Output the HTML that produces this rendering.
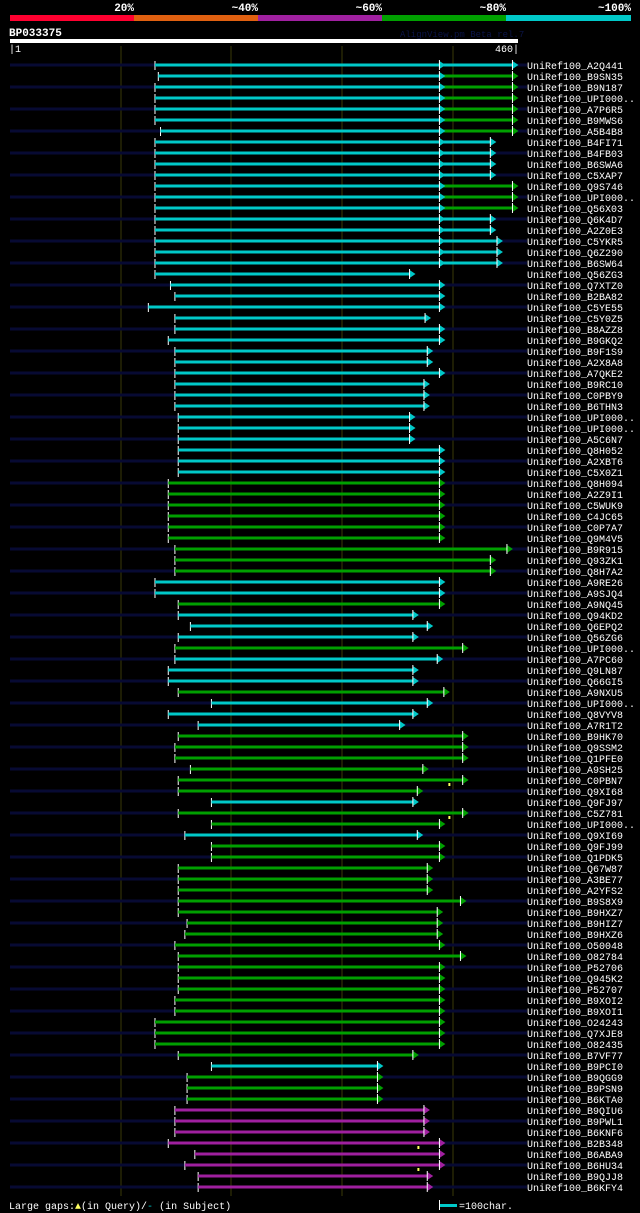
<!DOCTYPE html>
<html><head><meta charset="utf-8"><style>
html,body{margin:0;padding:0;background:#000;width:640px;height:1213px;overflow:hidden}
svg{display:block}
text{font-family:"Liberation Mono","DejaVu Sans Mono",monospace}
</style></head><body>
<svg id="chart" width="640" height="1213" viewBox="0 0 640 1213" xmlns="http://www.w3.org/2000/svg">
<g>
<rect x="10" y="15" width="124" height="6" fill="#ff0030"/>
<rect x="134" y="15" width="124" height="6" fill="#e06010"/>
<rect x="258" y="15" width="124" height="6" fill="#a020a0"/>
<rect x="382" y="15" width="124" height="6" fill="#00a000"/>
<rect x="506" y="15" width="125" height="6" fill="#00c8c8"/>
<g font-weight="bold" font-size="11" fill="#fff" text-anchor="end">
<text x="134" y="11">20%</text><text x="258" y="11">~40%</text><text x="382" y="11">~60%</text><text x="506" y="11">~80%</text><text x="631" y="11">~100%</text>
</g></g>
<text x="9" y="36" font-size="11" font-weight="bold" fill="#fff">BP033375</text>
<text x="400" y="37" font-size="9" fill="#0b1448">AlignView.pm Beta rel.7</text>
<rect x="10" y="39" width="508" height="4" fill="#fff"/>
<text x="9" y="52" font-size="10" fill="#fff">|1</text>
<text x="519" y="52" font-size="10" fill="#fff" text-anchor="end">460|</text>
<g id="grid"></g><g id="rows"></g>
<text x="9" y="1209" font-size="10" fill="#fff">Large gaps:<tspan fill="#ffff60">▲</tspan>(in Query)/<tspan fill="#00c8c8">-</tspan> (in Subject)</text>
<rect x="440" y="1204" width="17" height="3" fill="#00c8c8"/>
<rect x="439" y="1200" width="1" height="10" fill="#fff"/>
<text x="459" y="1209" font-size="10" fill="#fff">=100char.</text>
</svg>
<script>
const labels=["A2Q441","B9SN35","B9N187","UPI000..","A7P6R5","B9MWS6","A5B4B8","B4FI71","B4FB03","B6SWA6","C5XAP7","Q9S746","UPI000..","Q56X03","Q6K4D7","A2Z0E3","C5YKR5","Q6Z290","B6SW64","Q56ZG3","Q7XTZ0","B2BA82","C5YE55","C5Y0Z5","B8AZZ8","B9GKQ2","B9F1S9","A2X8A8","A7QKE2","B9RC10","C0PBY9","B6THN3","UPI000..","UPI000..","A5C6N7","Q8H052","A2XBT6","C5X0Z1","Q8H094","A2Z9I1","C5WUK9","C4JC65","C0P7A7","Q9M4V5","B9R915","Q93ZK1","Q8H7A2","A9RE26","A9SJQ4","A9NQ45","Q94KD2","Q6EPQ2","Q56ZG6","UPI000..","A7PC60","Q9LN87","Q66GI5","A9NXU5","UPI000..","Q8VYV8","A7R1T2","B9HK70","Q9SSM2","Q1PFE0","A9SH25","C0PBN7","Q9XI68","Q9FJ97","C5Z781","UPI000..","Q9XI69","Q9FJ99","Q1PDK5","Q67W87","A3BE77","A2YFS2","B9S8X9","B9HXZ7","B9HIZ7","B9HXZ6","O50048","O82784","P52706","Q945K2","P52707","B9XOI2","B9XOI1","O24243","Q7XJE8","O82435","B7VF77","B9PCI0","B9QGG9","B9PSN9","B6KTA0","B9QIU6","B9PWL1","B6KNF6","B2B348","B6ABA9","B6HU34","B9QJJ8","B6KFY4"];
const starts=[132,135,132,132,132,132,137,132,132,132,132,132,132,132,132,132,132,132,132,132,146,150,126,150,150,144,150,150,150,150,150,150,153,153,153,153,153,153,144,144,144,144,144,144,150,150,150,132,132,153,153,164,153,150,150,144,144,153,183,144,171,153,150,150,164,153,153,183,153,183,159,183,183,153,153,153,153,153,161,159,150,153,153,153,153,150,150,132,132,132,153,183,161,161,161,150,150,150,144,168,159,171,171];
const splits=[389,389,389,389,389,389,389,389,389,389,389,389,389,389,389,389,389,389,389];
const ends=[455,455,455,455,455,455,455,435,435,435,435,455,455,455,435,435,441,441,441,362,389,389,389,376,389,389,378,378,389,375,375,375,362,362,362,389,389,389,389,389,389,389,389,389,450,435,435,389,389,389,365,378,365,410,387,365,365,393,378,365,353,410,410,410,374,410,369,365,410,389,369,389,389,378,378,378,408,387,387,387,389,408,389,389,389,389,389,389,389,389,365,333,333,333,333,375,375,375,389,389,389,378,378];
const colors1=("cccccccccc"+"cccccccccc"+"cccccccccc"+"cccccccc")+"ggggggggg"+"cc"+"g"+"ccc"+"g"+"ccc"+"g"+"ccc"+"gggggg"+"c"+"gg"+"c"+("gggggggggg"+"gggggggggg")+"c"+"ggg"+"mmmmmmmm";
const colors2="c"+"gggggg"+"cccc"+"ggg"+"ccccc";
const queryGaps=[[65,398],[68,398],[98,370],[100,370]];
const COL={c:"#00c8c8",g:"#00a000",m:"#a020a0"};
const NS="http://www.w3.org/2000/svg";
const xs=r=>10+(r-1)*508/459;
const ys=i=>65+i*11;
function mk(tag,a,parent){const e=document.createElementNS(NS,tag);for(const k in a)e.setAttribute(k,a[k]);parent.appendChild(e);return e;}
const grid=document.getElementById('grid');
[100,200,300,400].forEach(t=>{
 const l=mk('rect',{x:Math.round(xs(t+1))-0.5,y:46,width:1,height:1150,fill:'#3a3a08'},grid);
 
 
});
const rowsG=document.getElementById('rows');
function arrow(x,y,col,g){
 mk('polygon',{points:`${x},${y-4} ${x+6},${y} ${x},${y+4}`,fill:col},g);
 mk('rect',{x:x-0.5,y:y-5,width:1,height:10,fill:'#fff'},g);
}
labels.forEach((lab,i)=>{
 const y=ys(i);
 const g=mk('g',{},rowsG);
 
 
 if(i%2===0) mk('rect',{x:10,y:y-1.5,width:517,height:3,fill:'#070a33'},g);
 const x0=xs(starts[i]);const sp=splits[i];const xe=xs(ends[i]);
 const c1=COL[colors1[i]];
 mk('rect',{x:x0-0.5,y:y-4,width:1,height:9,fill:'#fff'},g);
 if(sp){
  const xm=xs(sp);const c2=COL[colors2[i]];
  const b1=mk('rect',{x:x0,y:y-1.5,width:xm-x0,height:3,fill:c1},g);
  
  
  const b2=mk('rect',{x:xm,y:y-1.5,width:xe-xm,height:3,fill:c2},g);
  
  
  arrow(xm,y,c1,g);arrow(xe,y,c2,g);
 }else{
  const b=mk('rect',{x:x0,y:y-1.5,width:xe-x0,height:3,fill:c1},g);
  
  
  arrow(xe,y,c1,g);
 }
 const t=mk('text',{x:527,y:y+4,'font-size':10,fill:'#fff'},g);
 t.textContent='UniRef100_'+lab;
 
 
});
queryGaps.forEach(([i,r])=>{
 const m=mk('rect',{x:xs(r)-1,y:ys(i)+3,width:2,height:3,fill:'#ffff60'},rowsG);
 
 
});
</script>
</body></html>
